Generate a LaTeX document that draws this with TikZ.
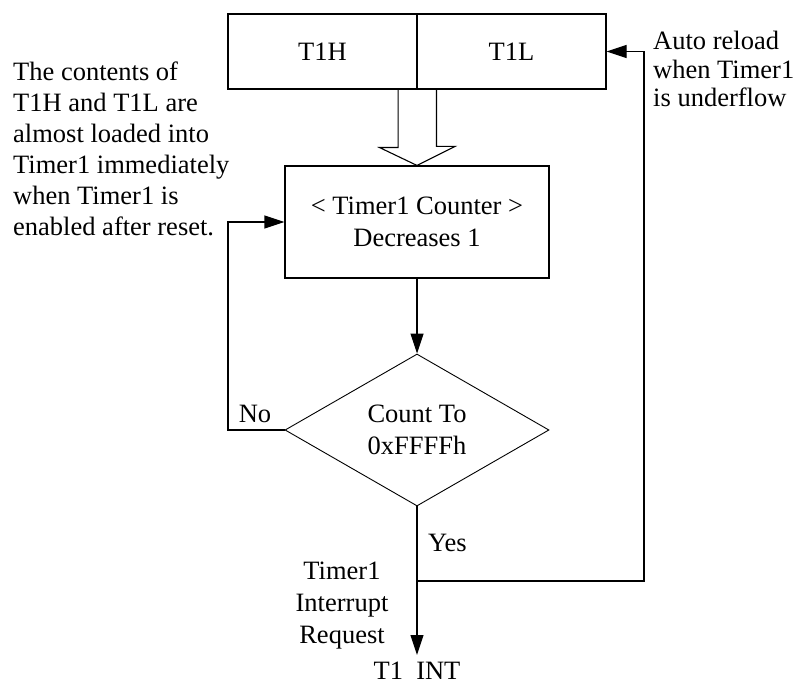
\documentclass[tikz,border=0pt]{standalone}
\usepackage{fontspec}
\setmainfont{Liberation Serif}
\usetikzlibrary{arrows.meta,shapes.geometric,calc}
\begin{document}
\begin{tikzpicture}[x=1pt,y=-1pt,
  every node/.style={font=\fontsize{26.5}{31.5}\selectfont, inner sep=0pt},
  line/.style={draw=black, line width=1.1pt},
  arr/.style={line, -{Triangle[length=20pt,width=13pt]}},
  regbox/.style={draw, line width=1.1pt, rectangle, minimum width=189pt, minimum height=75pt},
  note/.style={align=left, anchor=north west},
]
\useasboundingbox (0,0) rectangle (797,684);

\node[regbox] (T1H) at (322.5,51.5) {T1H};
\node[regbox] (T1L) at (511.5,51.5) {T1L};
\node[draw, line width=1.1pt, minimum width=264pt, minimum height=112pt, align=center] (cnt) at (417,222) {\textless\ Timer1 Counter \textgreater\\Decreases 1};
\node[diamond, draw, line width=0.9pt, minimum width=264pt, minimum height=152pt, aspect=1.737, align=center] (dia) at (417,430) {Count To\\0xFFFFh};

% hollow arrow
\draw[line, line join=miter] ($(T1H.south east)+(-19.5,0)$) -- ++(0,58) -- ++(-18.5,0) -- (cnt.north) -- ++(38,-19) -- ++(-18.5,0) -- ++(0,-58);

\draw[arr] (cnt.south) -- (dia.north);
\coordinate (noc) at (228,430);
\draw[arr] (dia.west) -- (noc) |- (cnt.west);
\node[anchor=base] (no) at (255,422) {No};

\coordinate (junc) at (417,581);
\coordinate (rc) at (644,581);
\coordinate (tip) at (417,655);
\draw[arr] (dia.south) -- (tip);
\draw[arr] (junc) -- (rc) |- (T1L.east);
\node[anchor=base west] (yes) at (428,551) {Yes};
\node[anchor=base] (int) at (417,679) {T1~~INT};

\node[note, font=\fontsize{26.5}{31}\selectfont] (left) at (13,62) {The contents of\\T1H and T1L are\\almost loaded into\\Timer1 immediately\\when Timer1 is\\enabled after reset.};
\node[note, font=\fontsize{26.5}{28.5}\selectfont] (auto) at (653,31) {Auto reload\\when Timer1\\is underflow};
\node[anchor=north, align=center, font=\fontsize{26.5}{32}\selectfont] (req) at (342,562) {Timer1\\Interrupt\\Request};
\end{tikzpicture}
\end{document}
